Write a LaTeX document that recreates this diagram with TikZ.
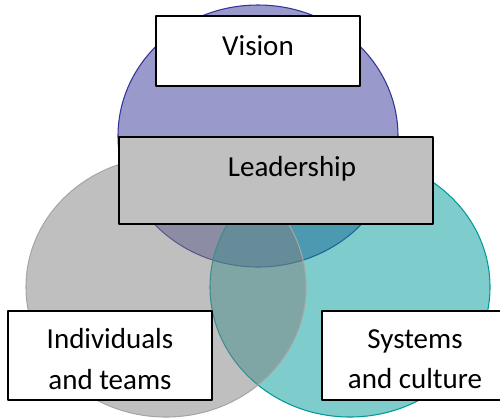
\documentclass[tikz,border=0pt]{standalone}
\usepackage{fontspec}
\setmainfont{Carlito}
\definecolor{visblue}{HTML}{333399}
\definecolor{systeal}{HTML}{009999}
\definecolor{indgray}{HTML}{808080}
\definecolor{leadgray}{HTML}{C0C0C0}
\begin{document}
\begin{tikzpicture}[x=0.02cm,y=-0.02cm,line join=round,
	every node/.style={font=\fontsize{16.5}{22.8}\selectfont,align=center},
	ring/.style={fill=#1,fill opacity=.5,draw=#1,line width=.6pt},
	box/.style={draw=black,line width=1.1pt,inner sep=0pt}]
	\useasboundingbox (0,0) rectangle (500,417);
	\clip (0,0) rectangle (500,417);
	\draw[ring=visblue](258,136)coordinate(V)ellipse(140 and 131);
	\draw[ring=systeal](350,287)coordinate(S)ellipse(140 and 130);
	\draw[ring=indgray,draw=indgray!70](166,287)coordinate(I)ellipse(140 and 130);
	\node[box,fill=white,minimum width=4.08cm,minimum height=1.4cm] (visionbox) at (258,51) {};
	\node[box,fill=leadgray,minimum width=6.28cm,minimum height=1.74cm] (leadbox) at (276,180.5) {};
	\foreach \b/\x in {indbox/110,sysbox/424}
	\node[box,fill=white,minimum width=4.08cm,minimum height=1.78cm] (\b) at (\x,355.5) {};
	\node (vision) at (258,46) {Vision};
	\node (lead) at (292,169) {Leadership};
	\node (ind) at (110,359) {Individuals\\and teams};
	\node (sys) at (415,359) {Systems\\and culture};
\end{tikzpicture}
\end{document}
